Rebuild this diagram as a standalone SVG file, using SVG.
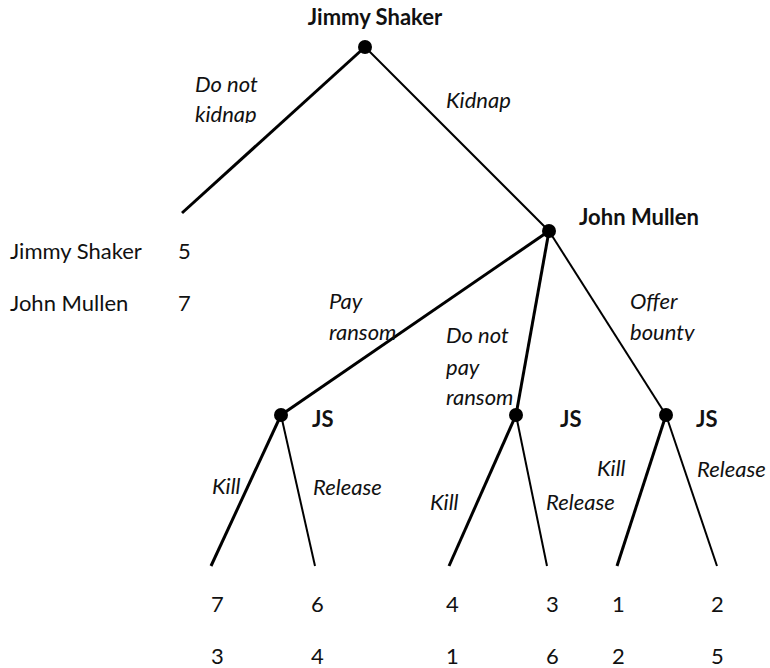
<svg xmlns="http://www.w3.org/2000/svg" width="770" height="668" viewBox="0 0 770 668">
  <style>
    text { font-family: Lato, "Open Sans", "Liberation Sans", sans-serif; font-size: 22px; fill: #111; }
    .player { font-weight: bold; }
    .move { font-style: italic; }
    .thick { stroke: #000; stroke-width: 3; fill: none; }
    .thin { stroke: #000; stroke-width: 2; fill: none; }
    .dot { fill: #000; }
  </style>
  <defs>
    <!-- label boxes that cut off descenders of their last line -->
    <clipPath id="clip-kidnap"><rect x="190" y="60" width="120" height="63"/></clipPath>
    <clipPath id="clip-bounty"><rect x="625" y="280" width="120" height="61"/></clipPath>
  </defs>
  <rect width="770" height="668" fill="#fff"/>

  <!-- branches of the game tree -->
  <g id="connectors">
    <line class="thick" x1="365" y1="47" x2="182" y2="213"/>
    <line class="thin" x1="365" y1="47" x2="549" y2="231"/>
    <line class="thick" x1="549" y1="231" x2="281" y2="415"/>
    <line class="thick" x1="549" y1="231" x2="516" y2="415"/>
    <line class="thin" x1="549" y1="231" x2="666" y2="415"/>
    <line class="thick" x1="281" y1="415" x2="211" y2="566"/>
    <line class="thin" x1="281" y1="415" x2="315" y2="566"/>
    <line class="thick" x1="516" y1="415" x2="449" y2="566"/>
    <line class="thin" x1="516" y1="415" x2="547" y2="566"/>
    <line class="thick" x1="666" y1="415" x2="617" y2="566"/>
    <line class="thin" x1="666" y1="415" x2="717" y2="566"/>
  </g>

  <!-- move labels -->
  <g id="move-labels">
    <g clip-path="url(#clip-kidnap)">
      <text class="move" x="195" y="92">Do not</text>
      <text class="move" x="195" y="122">kidnap</text>
    </g>
    <text class="move" x="446" y="108">Kidnap</text>
    <text class="move" x="329" y="309">Pay</text>
    <text class="move" x="329" y="340">ransom</text>
    <text class="move" x="446" y="343">Do not</text>
    <text class="move" x="446" y="375">pay</text>
    <text class="move" x="446" y="405">ransom</text>
    <g clip-path="url(#clip-bounty)">
      <text class="move" x="630" y="309">Offer</text>
      <text class="move" x="630" y="340">bounty</text>
    </g>
    <text class="move" x="212" y="494">Kill</text>
    <text class="move" x="313" y="495">Release</text>
    <text class="move" x="430" y="510">Kill</text>
    <text class="move" x="546" y="510">Release</text>
    <text class="move" x="597" y="476">Kill</text>
    <text class="move" x="697" y="477">Release</text>
  </g>

  <!-- decision nodes -->
  <g id="root">
    <circle class="dot" cx="365" cy="47" r="7"/>
    <text class="player" x="375" y="25" text-anchor="middle">Jimmy Shaker</text>
  </g>
  <g id="john-mullen">
    <circle class="dot" cx="549" cy="231" r="7"/>
    <text class="player" x="579" y="225">John Mullen</text>
  </g>
  <g id="js-pay">
    <circle class="dot" cx="281" cy="415" r="7"/>
    <text class="player" x="312" y="427">JS</text>
  </g>
  <g id="js-nopay">
    <circle class="dot" cx="516" cy="415" r="7"/>
    <text class="player" x="560" y="427">JS</text>
  </g>
  <g id="js-bounty">
    <circle class="dot" cx="666" cy="415" r="7"/>
    <text class="player" x="696" y="427">JS</text>
  </g>

  <!-- payoff for not kidnapping -->
  <g id="payoff-no-kidnap">
    <text x="10" y="259">Jimmy Shaker</text>
    <text x="178" y="259">5</text>
    <text x="10" y="311">John Mullen</text>
    <text x="178" y="311">7</text>
  </g>

  <!-- terminal payoffs -->
  <g id="payoffs">
    <text x="211" y="612">7</text><text x="211" y="664">3</text>
    <text x="311" y="612">6</text><text x="311" y="664">4</text>
    <text x="446" y="612">4</text><text x="446" y="664">1</text>
    <text x="546" y="612">3</text><text x="546" y="664">6</text>
    <text x="612" y="612">1</text><text x="612" y="664">2</text>
    <text x="711" y="612">2</text><text x="711" y="664">5</text>
  </g>
</svg>
